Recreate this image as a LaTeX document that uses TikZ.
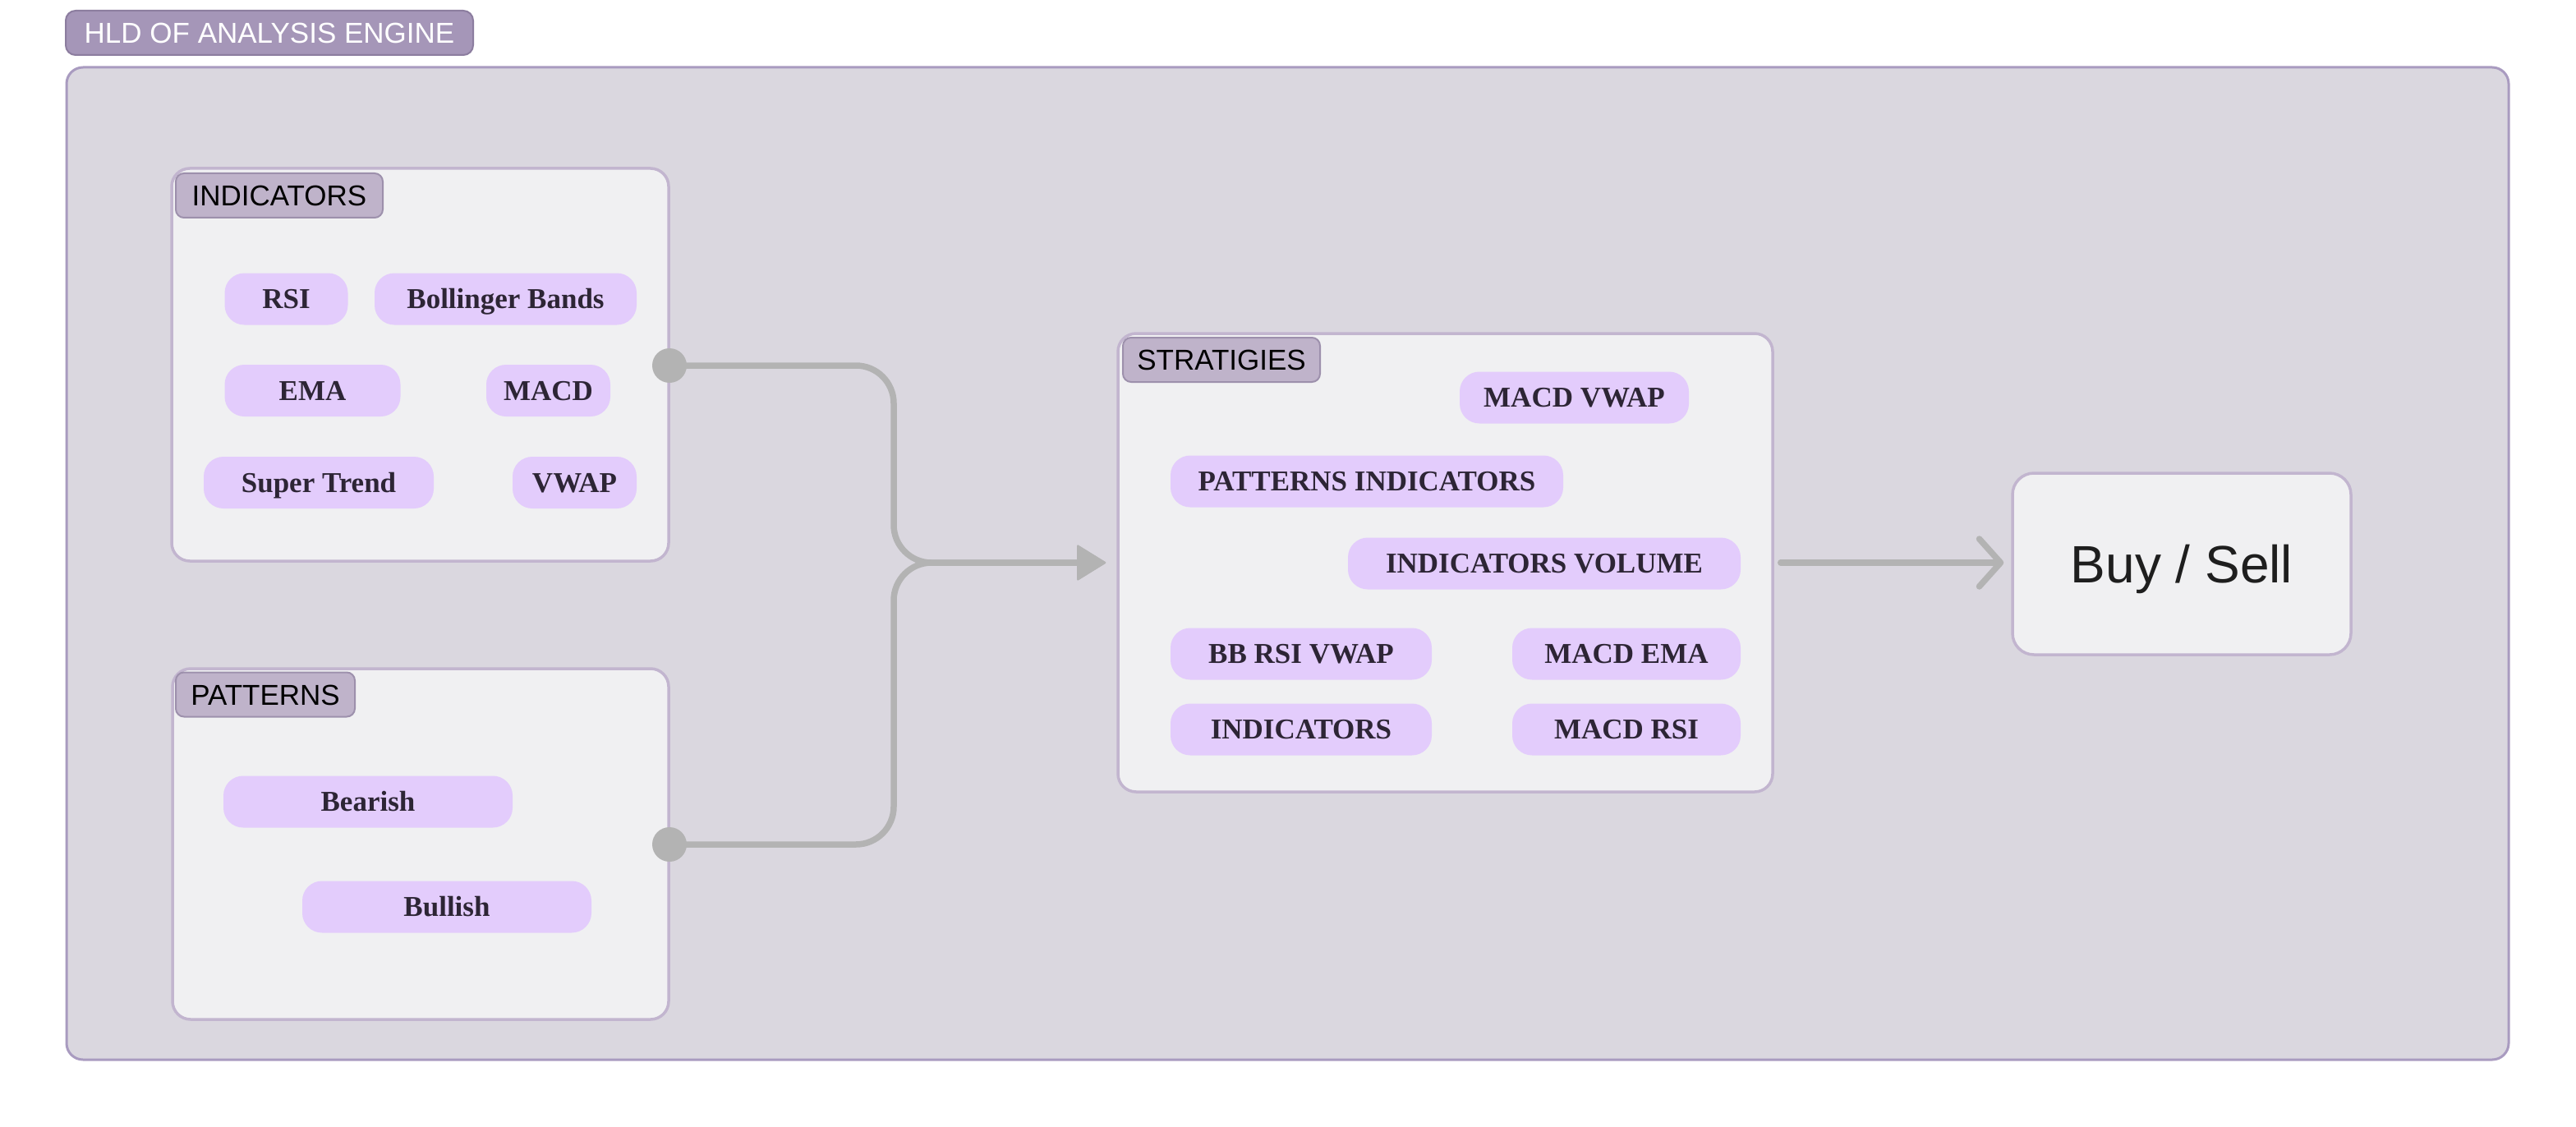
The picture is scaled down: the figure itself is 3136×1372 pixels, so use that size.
\documentclass[tikz,border=0pt]{standalone}
\usepackage{fontspec}
\usepackage{graphicx}
\setmainfont{Liberation Sans}
\newfontfamily\pillserif{Liberation Serif}
\usetikzlibrary{arrows.meta}
\definecolor{outerfill}{HTML}{DAD7DF}
\definecolor{outerdraw}{HTML}{A99BC0}
\definecolor{titlefill}{HTML}{A596B8}
\definecolor{titledraw}{HTML}{8C7D9F}
\definecolor{boxfill}{HTML}{F0F0F2}
\definecolor{boxdraw}{HTML}{C2B5CF}
\definecolor{tabfill}{HTML}{BFB3CA}
\definecolor{tabdraw}{HTML}{9D90AC}
\definecolor{pillfill}{HTML}{E3CCFC}
\definecolor{pilltext}{HTML}{2D2535}
\definecolor{connc}{HTML}{B3B3B3}
\definecolor{bstext}{HTML}{1E1E1E}
\newcommand\pillfnt{\pillserif\bfseries\fontsize{35}{40}\selectfont}
\newcommand\tabfnt{\fontsize{35}{40}\selectfont}
\begin{document}
\begin{tikzpicture}[x=1pt,y=-1pt,
  outerbox/.style={draw=outerdraw, fill=outerfill, line width=3pt, rounded corners=20pt, inner sep=0pt},
  titletab/.style={draw=titledraw, fill=titlefill, line width=2pt, rounded corners=12pt, inner sep=0pt, text=white, font=\tabfnt, text height=25pt, text depth=0pt},
  groupbox/.style={draw=boxdraw, fill=boxfill, line width=3.5pt, rounded corners=22pt, inner sep=0pt},
  labeltab/.style={draw=tabdraw, fill=tabfill, line width=2pt, rounded corners=10pt, inner sep=0pt, text=black, font=\tabfnt, text height=25pt, text depth=0pt, minimum height=54pt},
  pill/.style={fill=pillfill, rounded corners=24pt, inner sep=0pt, minimum height=63pt, text=pilltext, font=\pillfnt, text height=23pt, text depth=0pt},
  dot/.style={circle, fill=connc, inner sep=0pt, minimum size=42pt},
  conn/.style={draw=connc, line width=7.5pt, line cap=round, line join=round}
]
\useasboundingbox[fill=white] (0,0) rectangle (3136,1372);

% outer container and title
\node[outerbox, minimum width=2973pt, minimum height=1208pt] (outer) at (1567.5,686) {};
\node[titletab, minimum width=496pt, minimum height=54pt] (title) at (328,40) {HLD OF ANALYSIS ENGINE};

% INDICATORS group
\node[groupbox, minimum width=605pt, minimum height=478pt] (ind) at (511.5,444) {};
\node[labeltab, minimum width=252pt] (indlab) at (340,238) {INDICATORS};
\node[pill, minimum width=150pt] (rsi) at (348.5,364) {RSI};
\node[pill, minimum width=319pt] (bb) at (615.5,364) {Bollinger Bands};
\node[pill, minimum width=214pt] (ema) at (380.5,475.5) {EMA};
\node[pill, minimum width=151pt] (macd) at (667.5,475.5) {MACD};
\node[pill, minimum width=280pt] (st) at (388,587.5) {Super Trend};
\node[pill, minimum width=151pt] (vwap) at (699.5,587.5) {VWAP};

% PATTERNS group
\node[groupbox, minimum width=604pt, minimum height=427pt] (pat) at (512,1027.5) {};
\node[labeltab, minimum width=218pt] (patlab) at (323,845.5) {PATTERNS};
\node[pill, minimum width=352pt] (bear) at (448,976) {Bearish};
\node[pill, minimum width=352pt] (bull) at (544,1104) {Bullish};

% STRATIGIES group
\node[groupbox, minimum width=797pt, minimum height=558pt] (strat) at (1759.5,685) {};
\node[labeltab, minimum width=240pt] (stratlab) at (1487,438) {STRATIGIES};
\node[pill, minimum width=279pt] (s1) at (1916.5,484) {MACD VWAP};
\node[pill, minimum width=478pt] (s2) at (1664,586) {PATTERNS INDICATORS};
\node[pill, minimum width=478pt] (s3) at (1880,686) {INDICATORS VOLUME};
\node[pill, minimum width=318pt] (s4) at (1584,796) {BB RSI VWAP};
\node[pill, minimum width=278pt] (s5) at (1980,796) {MACD EMA};
\node[pill, minimum width=318pt] (s6) at (1584,888) {INDICATORS};
\node[pill, minimum width=278pt] (s7) at (1980,888) {MACD RSI};

% Buy / Sell
\node[groupbox, rounded corners=26pt, minimum width=412pt, minimum height=221pt, text=bstext, font=\fontsize{64}{70}\selectfont, text height=46pt, text depth=0pt] (bs) at (2656,686.5) {Buy / Sell};

% connectors
\node[dot] (d1) at (815,445) {};
\node[dot] (d2) at (815,1028) {};
\coordinate (m) at (1088,685);
\draw[conn, rounded corners=46pt, shorten >=13pt, -{Triangle[length=36pt,width=44pt,line width=2pt,round]}] (d1.center) -| (m) -- (strat.west);
\draw[conn, rounded corners=46pt, shorten >=13pt, -{Triangle[length=36pt,width=44pt,line width=2pt,round]}] (d2.center) -| (m) -- (strat.west);
\draw[conn, shorten <=8pt, shorten >=9pt, -{Straight Barb[length=26pt,width=58pt,round]}] (strat.east) -- (bs.west |- strat.east);
\end{tikzpicture}
\end{document}
